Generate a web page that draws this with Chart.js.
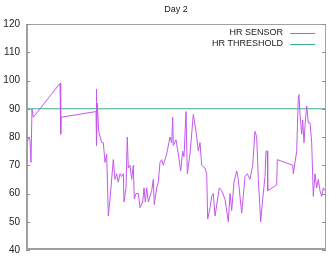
<!DOCTYPE html>
<html>
<head>
<meta charset="utf-8">
<script src="https://cdn.jsdelivr.net/npm/chart.js@4"></script>
<style>
  html, body { margin: 0; padding: 0; background: #fff; }
  #wrap { width: 329px; height: 257px; }
</style>
</head>
<body>
<div id="wrap"><canvas id="hrChart" width="329" height="257"></canvas></div>
<script>
// time positions (arbitrary units across the day) and heart rate readings
const sensorT = [
  0, 1.3, 2.7, 4, 5, 6, 7.3, 34, 34.7, 35.3, 70, 70.3, 70.7, 71.3, 72.7,
  75.7, 77.3, 79, 80.7, 82.3, 84, 87.3, 89, 90.7, 92.3, 94, 95.7, 97.3, 98,
  100, 101.3, 102.3, 104, 105.7, 107.3, 108.3, 110, 112.3, 114, 116.7, 118,
  119.3, 120.7, 122.3, 125.7, 127.3, 128.3, 130.7, 132.3, 134, 135.7, 137.3,
  140.7, 144, 145.7, 146.7, 147.3, 150, 152.3, 154.7, 156.7, 158, 160, 161.3,
  164, 167.3, 170, 172.3, 174, 175.7, 179, 180.7, 181.7, 184, 185.7, 187.3,
  189, 193.3, 195.7, 199, 202.3, 204, 205.7, 208, 210.7, 212.3, 215.7, 219,
  221.3, 224, 226.7, 229, 230.7, 232.3, 233.3, 234.7, 236.7, 239, 240, 241.3,
  241.7, 250.7, 251.3, 266.7, 267.3, 269, 270.7, 272.3, 273, 274, 275.7,
  276.7, 278, 279, 280.7, 282.3, 284, 285.7, 287.3, 289, 290.7, 292.3, 294,
  295.7, 297.3, 299
];
const sensorHR = [
  77, 78, 80, 79, 71, 90, 87, 99, 81, 87, 89, 97, 77, 92, 82,
  78, 78, 71, 74, 52, 58, 72, 65, 67, 64, 67, 66, 67, 57,
  62, 80, 69, 70, 65, 70, 58, 60, 60, 55, 57, 62,
  57, 62, 57, 61, 65, 56, 62, 64, 71, 72, 70,
  74, 80, 78, 87, 77, 79, 74, 68, 75, 73, 89, 67,
  74, 88, 82, 75, 78, 70, 69, 67, 51, 55, 59, 60,
  52, 62, 61, 58, 50, 60, 54, 64, 68, 65, 53, 66,
  67, 65, 70, 82, 80, 65, 59, 50, 58, 66, 75, 75,
  61, 63, 72, 70, 67, 71, 75, 94, 95, 88, 81,
  86, 78, 84, 91, 85, 85, 78, 59, 67, 62, 65, 61,
  59, 62, 61
];
const thresholdT = [0, 300];
const thresholdHR = [90, 90];
const yTicks = [40, 50, 60, 70, 80, 90, 100, 110, 120];

const sensorColor = '#c458ec';
const thresholdColor = '#3fae88';
const textFont = '9px "Liberation Sans", Arial, sans-serif';

const gnuplotFrame = {
  id: 'gnuplotFrame',
  afterDraw(chart) {
    const c = chart.ctx;
    const a = chart.chartArea;
    const y = chart.scales.y;
    c.save();
    // border
    c.strokeStyle = '#a0a0a0';
    c.lineWidth = 1;
    c.strokeRect(a.left + 0.5, a.top + 0.5, a.right - a.left - 1, a.bottom - a.top - 1);
    c.lineWidth = 2;
    c.beginPath();
    c.moveTo(a.left + 1, a.top);
    c.lineTo(a.left + 1, a.bottom - 1);
    c.lineTo(a.right, a.bottom - 1);
    c.stroke();
    // tick marks on both sides
    c.lineWidth = 1;
    c.strokeStyle = '#909090';
    yTicks.forEach(v => {
      const py = Math.round(y.getPixelForValue(v)) + 0.5;
      c.beginPath();
      c.moveTo(a.left, py);
      c.lineTo(a.left + 4, py);
      c.moveTo(a.right, py);
      c.lineTo(a.right - 4, py);
      c.stroke();
    });
    // title
    c.fillStyle = '#222';
    c.font = textFont;
    c.textAlign = 'center';
    c.textBaseline = 'middle';
    c.fillText('Day 2', (a.left + a.right) / 2, 10);
    // key
    const items = [['HR SENSOR', sensorColor], ['HR THRESHOLD', thresholdColor]];
    items.forEach((it, i) => {
      const ly = 32.5 + i * 11;
      c.textAlign = 'right';
      c.fillStyle = '#222';
      c.fillText(it[0], 283, ly);
      c.strokeStyle = it[1];
      c.lineWidth = 1;
      c.beginPath();
      c.moveTo(290, Math.round(ly) + 0.5);
      c.lineTo(315, Math.round(ly) + 0.5);
      c.stroke();
    });
    c.restore();
  }
};

new Chart(document.getElementById('hrChart'), {
  type: 'line',
  data: {
    datasets: [
      {
        label: 'HR SENSOR',
        data: sensorT.map((t, i) => ({ x: t, y: sensorHR[i] })),
        borderColor: sensorColor,
        borderWidth: 1,
        pointRadius: 0,
        tension: 0
      },
      {
        label: 'HR THRESHOLD',
        data: thresholdT.map((t, i) => ({ x: t, y: thresholdHR[i] })),
        borderColor: thresholdColor,
        borderWidth: 1,
        pointRadius: 0,
        tension: 0
      }
    ]
  },
  options: {
    responsive: false,
    animation: false,
    events: [],
    layout: { autoPadding: false, padding: { top: 24, bottom: 7, right: 3, left: 0 } },
    plugins: {
      legend: { display: false },
      title: { display: false },
      tooltip: { enabled: false }
    },
    scales: {
      x: {
        type: 'linear',
        min: 0,
        max: 300,
        display: false
      },
      y: {
        min: 40,
        max: 120,
        afterFit(scale) {
          scale.width = 26;
          scale.paddingTop = 0;
          scale.paddingBottom = 0;
        },
        grid: { display: false, drawTicks: false },
        border: { display: false },
        ticks: {
          stepSize: 10,
          padding: 6,
          color: '#222',
          font: { family: '"Liberation Sans", Arial, sans-serif', size: 10 }
        }
      }
    }
  },
  plugins: [gnuplotFrame]
});
</script>
</body>
</html>
